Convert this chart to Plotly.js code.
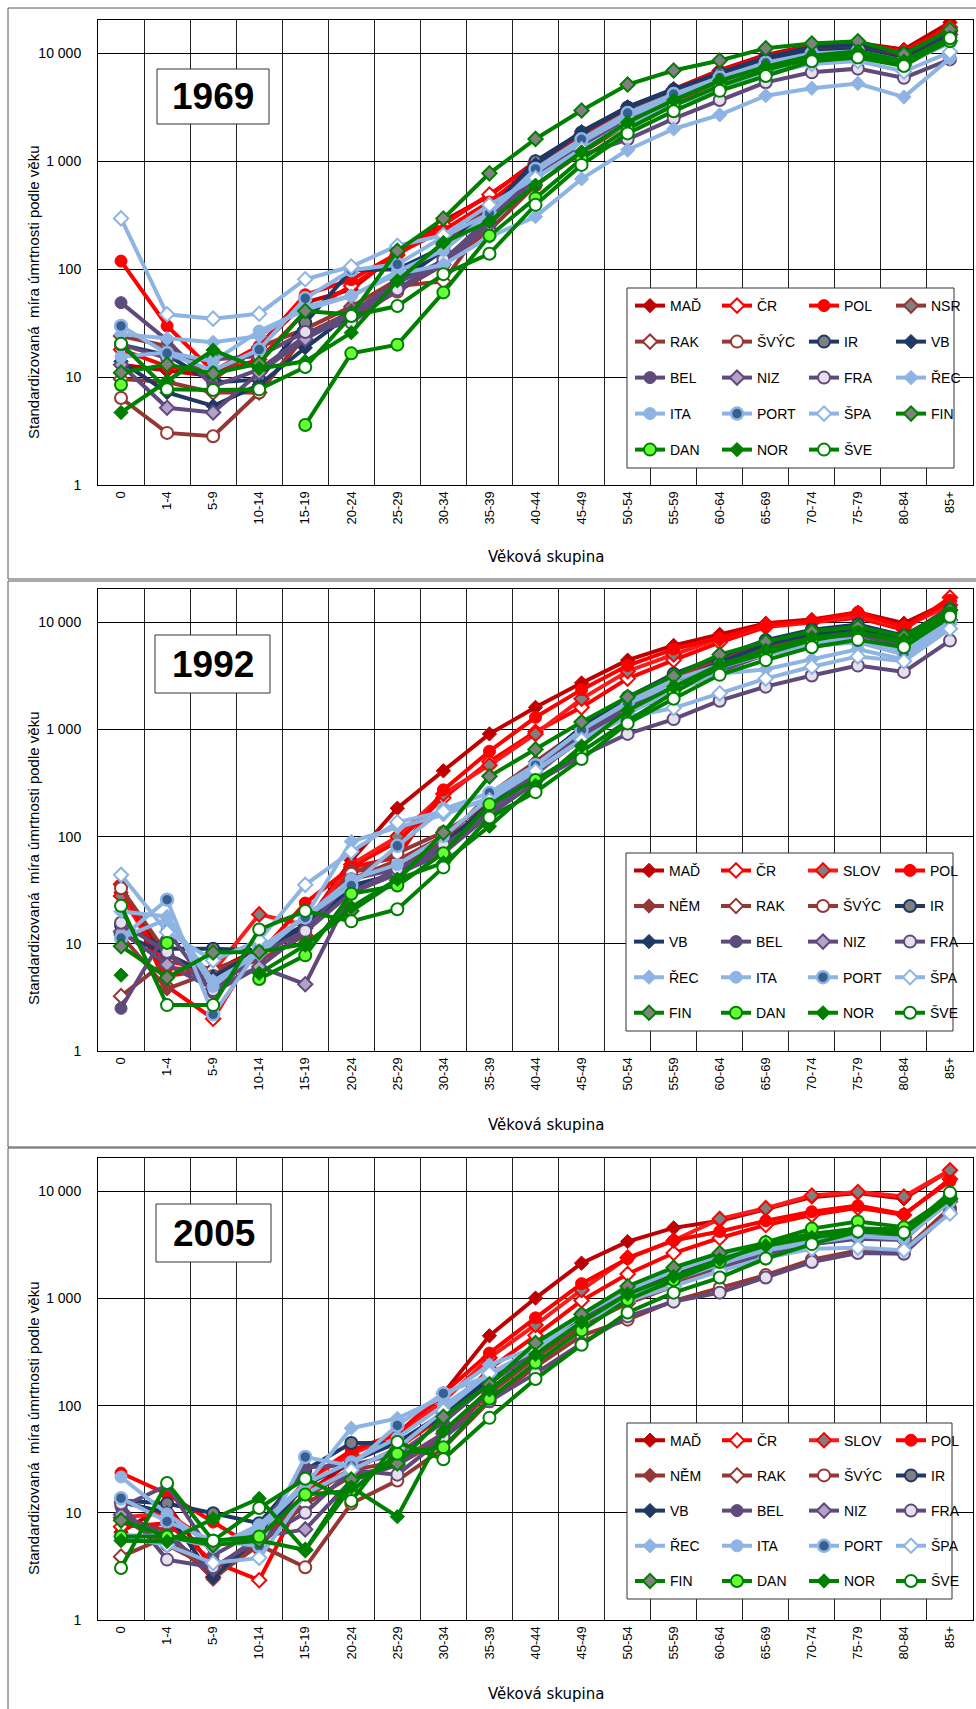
<!DOCTYPE html>
<html><head><meta charset="utf-8">
<script src="https://cdn.plot.ly/plotly-3.0.1.min.js"></script>
<style>html,body{margin:0;padding:0;background:#fff}</style>
</head><body><div id="chart" style="width:976px;height:1709px"></div>
<script>
// ---------- DATA ----------
const ageGroups = ['0','1-4','5-9','10-14','15-19','20-24','25-29','30-34','35-39','40-44','45-49','50-54','55-59','60-64','65-69','70-74','75-79','80-84','85+'];
const yTickVals = [1, 10, 100, 1000, 10000];
const yTickText = ['1', '10', '100', '1 000', '10 000'];
const years = ['1969', '1992', '2005'];
const xTitle = 'Věková skupina';
const yTitle = 'Standardizovaná  míra úmrtnosti podle věku';

const countries1969 = ['MAĎ','ČR','POL','NSR','RAK','ŠVÝC','IR','VB','BEL','NIZ','FRA','ŘEC','ITA','PORT','ŠPA','FIN','DAN','NOR','ŠVE'];
const countries1992 = ['MAĎ','ČR','SLOV','POL','NĚM','RAK','ŠVÝC','IR','VB','BEL','NIZ','FRA','ŘEC','ITA','PORT','ŠPA','FIN','DAN','NOR','ŠVE'];
const countries2005 = ['MAĎ','ČR','SLOV','POL','NĚM','RAK','ŠVÝC','IR','VB','BEL','NIZ','FRA','ŘEC','ITA','PORT','ŠPA','FIN','DAN','NOR','ŠVE'];

// 1969
const MAD69 = [13, 11.4, 10.2, 18.8, 49, 65, 140, 280, 480, 1000, 1800, 3100, 4700, 7000, 9700, 12000, 12500, 10900, 19400];
const CR69 = [18, 12.6, 10.6, 14.6, 40, 70, 135, 260, 493, 950, 1750, 3000, 4600, 6900, 9400, 11800, 12200, 10500, 17500];
const POL69 = [119, 29.8, 11.4, 19.4, 58, 80, 140, 230, 420, 900, 1700, 2900, 4400, 6500, 9000, 11000, 11500, 9800, 15000];
const NSR69 = [24, 19.4, 9.5, 19, 28, 45, 80, 170, 380, 850, 1650, 2900, 4500, 6600, 9000, 11200, 11800, 10000, 16000];
const RAK69 = [9.6, 9, 7.2, 7.2, 25, 40, 70, 77, 300, 750, 1500, 2700, 4300, 6400, 8800, 10800, 11500, 9500, 15000];
const SVYC69 = [6.4, 3.04, 2.83, 7.2, 24, 36, 62, 110, 230, 600, 1200, 2200, 3600, 5500, 7700, 9500, 10000, 8300, 13000];
const IR69 = [20, 16, 8.9, 9.5, 32, 98, 100, 160, 350, 1004, 1850, 3157, 4600, 6600, 9200, 11500, 12000, 10000, 16000];
const VB69 = [14, 7.2, 5.4, 8.5, 18.7, 39, 75, 150, 340, 930, 1888, 3200, 4690, 6170, 9000, 10500, 11000, 9000, 14500];
const BEL69 = [49, 22, 8.2, 11.8, 24, 40, 75, 120, 300, 830, 1550, 2700, 4000, 5700, 7800, 9500, 10000, 8300, 13500];
const NIZ69 = [13, 5.2, 4.7, 11, 22.5, 38, 65, 110, 260, 700, 1400, 2500, 3800, 5500, 7500, 9000, 9500, 7800, 13000];
const FRA69 = [20, 15, 14.6, 15.7, 26.2, 32, 65, 123, 280, 760, 1140, 1600, 2490, 3700, 5400, 6680, 7230, 5940, 8810];
const REC69 = [25, 22.7, 21, 24, 45, 56.5, 90, 110, 200, 307, 687, 1273, 1995, 2697, 4060, 4760, 5270, 3940, 9000];
const ITA69 = [15.4, 17, 14, 26.7, 42, 56.5, 95, 150, 330, 800, 1500, 2600, 3900, 5600, 7700, 9500, 10000, 8000, 12500];
const PORT69 = [29.8, 16.6, 11.5, 18, 53.8, 98, 111, 200, 330, 850, 1600, 2800, 4200, 6000, 8200, 10000, 10500, 8500, 13000];
const SPA69 = [296, 38.2, 34.8, 38.7, 80.7, 106, 165, 207, 395, 700, 1300, 2200, 3300, 4700, 6500, 8000, 8500, 6800, 10300];
const FIN69 = [11, 13.1, 10.8, 13.4, 41, 38, 148, 295, 774, 1613, 2963, 5150, 6950, 8600, 11170, 12380, 12980, 9840, 16600];
const DAN69 = [8.5, null, null, null, 3.6, 16.6, 20, 61, 204, 456, 1050, 2000, 3300, 5000, 7000, 9000, 9800, 8000, 13000];
const NOR69 = [4.7, 9.2, 17.8, 12, 14, 25.8, 78, 177, 277, 601, 1224, 2300, 3700, 5600, 7530, 9500, 10500, 8500, 14000];
const SVE69 = [20.4, 7.7, 7.6, 7.7, 12.4, 36.9, 45.6, 90, 139, 395, 927, 1815, 2916, 4500, 6180, 8470, 9160, 7640, 13830];

// 1992
const MAD92 = [30, 7, 5.5, 9, 15, 60, 184, 411, 908, 1607, 2711, 4430, 6080, 7710, 9780, 10590, 12400, 9780, 15700];
const CR92 = [36, 4, 2.0, 10, 12, 52, 90, 230, 500, 950, 1607, 2980, 4430, 6500, 9000, 10000, 11000, 8500, 17000];
const SLOV92 = [28, 6, 5.5, 18.8, 15, 55, 100, 250, 464, 908, 1930, 3490, 5000, 7000, 9300, 10000, 11500, 9000, 14500];
const POL92 = [35, 5, 5.8, 8, 24, 51.9, 64, 273, 626, 1298, 2350, 3940, 5620, 7130, 9500, 10200, 12400, 9000, 16000];
const NEM92 = [12, 3.8, 5.5, 7, 12, 48, 50, 90, 250, 500, 1000, 1900, 3000, 4500, 6500, 8000, 9000, 7200, 13800];
const RAK92 = [3.25, 7, 5.8, 8, 14, 40, 60, 100, 220, 450, 950, 1800, 2900, 4300, 6000, 7500, 8700, 7000, 13000];
const SVYC92 = [33, 8, 5, 8, 13, 45, 70, 110, 200, 400, 800, 1500, 2400, 3600, 5200, 6800, 8000, 6500, 12500];
const IR92 = [15, 9, 9.0, 8.7, 15, 35, 45, 80, 200, 464, 1050, 2000, 3300, 4800, 6800, 8500, 9500, 7500, 13000];
const VB92 = [12.4, 8, 4.9, 8.7, 14, 33, 45, 85, 200, 450, 1050, 1645, 2750, 4200, 6200, 7800, 8700, 7000, 12500];
const BEL92 = [2.5, 13.3, 3.5, 6.1, 13, 30, 50, 75, 180, 400, 900, 1600, 2500, 3700, 5200, 6500, 7500, 6000, 11000];
const NIZ92 = [13, 6.4, 3.8, 6.1, 4.2, 30, 45, 70, 160, 380, 850, 1500, 2300, 3500, 5000, 6200, 7000, 5600, 10500];
const FRA92 = [15.7, 8.4, 3.7, 8, 13.2, 40, 50, 84, 160, 320, 565, 908, 1248, 1854, 2505, 3180, 3940, 3440, 6740];
const REC92 = [20, 18, 4.5, 8, 18, 90, 122, 160, 230, 420, 800, 1400, 2300, 3300, 3640, 4500, 5600, 4500, 9500];
const ITA92 = [11.3, 17, 4, 9, 18, 40, 55, 100, 230, 460, 990, 1800, 2900, 4000, 5300, 6500, 7000, 5500, 10000];
const PORT92 = [11.3, 25.8, 2.2, 9, 17.6, 35, 82, 180, 256, 464, 990, 1750, 2600, 3800, 5000, 6000, 6500, 5000, 10000];
const SPA92 = [44, 12.9, 7.0, 10.8, 35.5, 72.5, 136, 172, 218, 410, 800, 1300, 1583, 2170, 2980, 3840, 4800, 4330, 8690];
const FIN92 = [9.5, 4.85, 8.3, 8.4, 10, 20.2, 39, 109, 365, 651, 1170, 2005, 3150, 4990, 6580, 8220, 9040, 7410, 13000];
const DAN92 = [null, 10.2, null, 4.7, 7.8, 29.3, 35, 70, 200, 338, 621, 1200, 2200, 3840, 5110, 6800, 8000, 6500, 12000];
const NOR92 = [5.1, null, null, 5.3, 9.7, 22, 40, 57, 125, 300, 700, 1500, 2500, 4000, 5500, 7200, 8000, 6800, 12000];
const SVE92 = [22.6, 2.68, 2.68, 13.6, 20.2, 16.2, 21, 51.6, 151, 260, 530, 1135, 1930, 3230, 4430, 5850, 6850, 5850, 11270];

// 2005
const MAD05 = [6.6, 12, 3, 5, 15, 30, 50, 130, 448, 1008, 2133, 3390, 4550, 5300, 6800, 8800, 9600, 8500, 15670];
const CR05 = [7.4, 8, 3.5, 2.35, 16, 25, 40, 80, 220, 450, 955, 1690, 2650, 3660, 4840, 6000, 7000, 6000, 13000];
const SLOV05 = [9, 10, 5, 6, 20, 35, 55, 110, 280, 565, 1200, 2400, 3470, 5520, 6950, 9120, 9840, 8910, 15670];
const POL05 = [23.5, 15, 8.2, 4.5, 20, 38, 55, 130, 309, 659, 1373, 2357, 3470, 4210, 5300, 6440, 7340, 6100, 12400];
const NEM05 = [9, 6.8, 2.4, 5.5, 14, 25, 30, 55, 140, 300, 600, 1000, 1400, 2000, 2600, 3400, 3900, 3800, 8000];
const RAK05 = [3.9, 6, 2.5, 5, 12, 22, 28, 50, 130, 280, 550, 900, 1300, 1900, 2500, 3200, 3800, 3700, 8000];
const SVYC05 = [9, 5, 3, 5, 3.1, 12.2, 20, 40, 110, 230, 450, 634, 950, 1250, 1650, 2300, 2800, 2800, 7000];
const IR05 = [13, 12.2, 9.9, 8, 25, 44.8, 45, 80, 170, 330, 700, 1100, 1700, 2300, 3000, 3700, 4200, 4200, 9000];
const VB05 = [12.6, 10, 2.5, 6, 18, 30, 45, 85, 180, 329, 650, 1100, 1700, 2400, 3100, 3800, 4300, 4300, 9000];
const BEL05 = [11.3, 18, 4, 6.9, 26.5, 28, 35, 70, 160, 330, 650, 1100, 1600, 2200, 2700, 3300, 3800, 3700, 8500];
const NIZ05 = [9.6, 6, 3, 6, 7, 20, 28, 55, 140, 300, 600, 1000, 1500, 2000, 2600, 3200, 3600, 3500, 8500];
const FRA05 = [12.2, 3.66, 3.1, 5.5, 10, 25, 22.7, 50, 110, 200, 380, 680, 933, 1132, 1566, 2183, 2650, 2610, 6500];
const REC05 = [6.2, 6, 4.8, 7, 18, 61.6, 76, 120, 240, 350, 600, 1000, 1500, 2100, 2900, 3600, 4100, 4100, 9000];
const ITA05 = [21.6, 9.8, 4.8, 7.7, 18.7, 30, 50, 100, 200, 330, 600, 1000, 1500, 2100, 2800, 3300, 3800, 3600, 8000];
const PORT05 = [13.7, 8.3, 5.5, 4.9, 33.2, 27.4, 65.3, 130, 191, 350, 700, 1200, 1800, 2500, 3300, 4000, 4500, 4400, 9000];
const SPA05 = [6, 5, 3.4, 3.8, 15, 25, 40, 90, 200, 330, 600, 950, 1300, 1800, 2400, 2900, 2972, 2820, 6200];
const FIN05 = [8.5, 6, 5, 5.5, 4.5, 20.4, 28.8, 78.7, 158, 384, 711, 1300, 1944, 2650, 3300, 4000, 4500, 4400, 8500];
const DAN05 = [6, 6, 5.5, 6, 14.8, 16, 35.6, 40.8, 116, 251, 503, 970, 1483, 2183, 3340, 4480, 5230, 4620, 9000];
const NOR05 = [5.5, 5.4, 8.8, 13.6, 4.5, 17.4, 9.2, 57.8, 140, 300, 600, 1100, 1600, 2300, 3100, 3700, 4200, 4000, 8500];
const SVE05 = [3.06, 19, 5.5, 11.1, 20.8, 12.9, 45.7, 31.6, 76.9, 177, 369, 740, 1132, 1566, 2357, 3210, 4210, 4110, 9700];

const series1969 = [MAD69, CR69, POL69, NSR69, RAK69, SVYC69, IR69, VB69, BEL69, NIZ69, FRA69, REC69, ITA69, PORT69, SPA69, FIN69, DAN69, NOR69, SVE69];
const series1992 = [MAD92, CR92, SLOV92, POL92, NEM92, RAK92, SVYC92, IR92, VB92, BEL92, NIZ92, FRA92, REC92, ITA92, PORT92, SPA92, FIN92, DAN92, NOR92, SVE92];
const series2005 = [MAD05, CR05, SLOV05, POL05, NEM05, RAK05, SVYC05, IR05, VB05, BEL05, NIZ05, FRA05, REC05, ITA05, PORT05, SPA05, FIN05, DAN05, NOR05, SVE05];

// ---------- STYLES ----------
const styles = {
  'MAĎ':  {line:'#C00000', symbol:'diamond', fill:'#C00000', edge:'#C00000', ew:1},
  'ČR':   {line:'#FF0000', symbol:'diamond', fill:'#FFFFFF', edge:'#FF0000', ew:2},
  'SLOV': {line:'#FF1A1A', symbol:'diamond', fill:'#808080', edge:'#FF0000', ew:2},
  'POL':  {line:'#FF0000', symbol:'circle',  fill:'#FF0000', edge:'#FF0000', ew:1},
  'NSR':  {line:'#953735', symbol:'diamond', fill:'#808080', edge:'#953735', ew:2},
  'NĚM':  {line:'#953735', symbol:'diamond', fill:'#953735', edge:'#953735', ew:1},
  'RAK':  {line:'#953735', symbol:'diamond', fill:'#FFFFFF', edge:'#953735', ew:2},
  'ŠVÝC': {line:'#953735', symbol:'circle',  fill:'#FFFFFF', edge:'#953735', ew:2},
  'IR':   {line:'#1F3864', symbol:'circle',  fill:'#7F7F7F', edge:'#1F3864', ew:2},
  'VB':   {line:'#1F3864', symbol:'diamond', fill:'#1F3864', edge:'#1F3864', ew:1},
  'BEL':  {line:'#604A7B', symbol:'circle',  fill:'#604A7B', edge:'#604A7B', ew:1},
  'NIZ':  {line:'#604A7B', symbol:'diamond', fill:'#B3A2C7', edge:'#604A7B', ew:2},
  'FRA':  {line:'#604A7B', symbol:'circle',  fill:'#E6E0EC', edge:'#604A7B', ew:2},
  'ŘEC':  {line:'#8EB4E3', symbol:'diamond', fill:'#8EB4E3', edge:'#8EB4E3', ew:1},
  'ITA':  {line:'#8EB4E3', symbol:'circle',  fill:'#8EB4E3', edge:'#8EB4E3', ew:1},
  'PORT': {line:'#8EB4E3', symbol:'circle',  fill:'#376092', edge:'#8EB4E3', ew:2.5},
  'ŠPA':  {line:'#8EB4E3', symbol:'diamond', fill:'#FFFFFF', edge:'#8EB4E3', ew:2},
  'FIN':  {line:'#008000', symbol:'diamond', fill:'#808080', edge:'#008000', ew:2},
  'DAN':  {line:'#008000', symbol:'circle',  fill:'#66FF33', edge:'#008000', ew:2},
  'NOR':  {line:'#008000', symbol:'diamond', fill:'#008000', edge:'#008000', ew:1},
  'ŠVE':  {line:'#008000', symbol:'circle',  fill:'#FFFFFF', edge:'#008000', ew:2}
};

const W = 976, H = 1709;
const px = x => x / W;
const py = y => 1 - y / H;
const FONT = 'Liberation Sans, Arial, sans-serif';

// panel geometry in pixels
const panels = [
  {names: countries1969, data: series1969, top: 20, bottom: 485, frame: [8, 8, 1000, 579], legBox: [627, 288, 954, 468], yearBox: [157, 69, 269, 124], xTitleY: 557, yTitleY: 292},
  {names: countries1992, data: series1992, top: 589, bottom: 1051, frame: [8, 581, 1000, 1147], legBox: [626, 853, 953, 1031], yearBox: [155, 635, 270, 693], xTitleY: 1125, yTitleY: 858},
  {names: countries2005, data: series2005, top: 1158, bottom: 1620, frame: [8, 1148, 1000, 1730], legBox: [627, 1423, 952, 1599], yearBox: [156, 1204, 271, 1262], xTitleY: 1694, yTitleY: 1428}
];
const plotLeft = 98, plotRight = 973;

const traces = [];
const layout = {
  width: W, height: H, autosize: false,
  margin: {l: 0, r: 0, t: 0, b: 0, autoexpand: false},
  paper_bgcolor: '#FFFFFF', plot_bgcolor: '#FFFFFF',
  font: {family: FONT, color: '#000'},
  shapes: [], annotations: [],
  hovermode: false
};

panels.forEach((p, pi) => {
  const sfx = pi === 0 ? '' : String(pi + 1);
  p.names.forEach((nm, i) => {
    const s = styles[nm];
    const row = Math.floor(i / 4);
    const legIdx = pi * 5 + row + 1;
    traces.push({
      type: 'scatter', mode: 'lines+markers', name: nm,
      x: ageGroups, y: p.data[i],
      xaxis: 'x' + sfx, yaxis: 'y' + sfx,
      connectgaps: false,
      line: {color: s.line, width: 4},
      marker: {symbol: s.symbol, size: s.symbol === 'circle' ? 12 : 11, color: s.fill, line: {color: s.edge, width: s.ew}},
      legend: legIdx === 1 ? 'legend' : 'legend' + legIdx,
      showlegend: true
    });
  });

  layout['xaxis' + sfx] = {
    domain: [px(plotLeft), px(plotRight)], anchor: 'y' + sfx,
    type: 'category', range: [-0.5, 18.5], tickson: 'boundaries',
    showgrid: true, gridcolor: '#222', gridwidth: 1,
    showline: true, mirror: true, linecolor: '#000', linewidth: 1,
    ticks: 'outside', ticklen: 11, tickcolor: 'rgba(0,0,0,0)', tickangle: -90,
    tickfont: {family: FONT, size: 13, color: '#000'},
    zeroline: false, fixedrange: true
  };
  layout['yaxis' + sfx] = {
    domain: [py(p.bottom), py(p.top)], anchor: 'x' + sfx,
    type: 'log', range: [0, 4.31],
    tickvals: yTickVals, ticktext: yTickText,
    showgrid: true, gridcolor: '#000', gridwidth: 1,
    showline: true, mirror: true, linecolor: '#000', linewidth: 1,
    ticks: 'outside', ticklen: 13, tickcolor: 'rgba(0,0,0,0)',
    tickfont: {family: FONT, size: 14, color: '#000'},
    zeroline: false, fixedrange: true
  };

  // outer frame
  layout.shapes.push({type: 'rect', xref: 'paper', yref: 'paper', x0: px(p.frame[0]), x1: px(p.frame[2]), y0: py(p.frame[3]), y1: py(p.frame[1]), line: {color: '#555', width: 1}, fillcolor: 'rgba(0,0,0,0)', layer: 'above'});
  // year box
  const yb = p.yearBox;
  layout.shapes.push({type: 'rect', xref: 'paper', yref: 'paper', x0: px(yb[0]), x1: px(yb[2]), y0: py(yb[3]), y1: py(yb[1]), line: {color: '#333', width: 1}, fillcolor: '#FFFFFF', layer: 'above'});
  layout.annotations.push({xref: 'paper', yref: 'paper', x: px((yb[0] + yb[2]) / 2), y: py((yb[1] + yb[3]) / 2), xanchor: 'center', yanchor: 'middle', showarrow: false, text: '<b>' + years[pi] + '</b>', font: {family: FONT, size: 37, color: '#000'}});
  // legend box
  const lb = p.legBox;
  layout.shapes.push({type: 'rect', xref: 'paper', yref: 'paper', x0: px(lb[0]), x1: px(lb[2]), y0: py(lb[3]), y1: py(lb[1]), line: {color: '#333', width: 1}, fillcolor: '#FFFFFF', layer: 'above'});
  const rowH = (lb[3] - lb[1]) / 5;
  for (let r = 0; r < 5; r++) {
    const idx = pi * 5 + r + 1;
    layout[idx === 1 ? 'legend' : 'legend' + idx] = {
      orientation: 'h', x: px(lb[0] + 3), xanchor: 'left',
      y: py(lb[1] + rowH / 2 + r * rowH), yanchor: 'middle',
      entrywidth: 42, entrywidthmode: 'pixels',
      bgcolor: 'rgba(0,0,0,0)', borderwidth: 0,
      font: {family: FONT, size: 14, color: '#000'},
      traceorder: 'normal', itemclick: false, itemdoubleclick: false
    };
  }
  // axis titles
  layout.annotations.push({xref: 'paper', yref: 'paper', x: px(546), y: py(p.xTitleY), xanchor: 'center', yanchor: 'middle', showarrow: false, text: xTitle, font: {family: 'DejaVu Sans, sans-serif', size: 15, color: '#000'}});
  layout.annotations.push({xref: 'paper', yref: 'paper', x: px(33), y: py(p.yTitleY), xanchor: 'center', yanchor: 'middle', showarrow: false, textangle: -90, text: yTitle, font: {family: FONT, size: 15, color: '#000'}});
});

Plotly.newPlot('chart', traces, layout, {staticPlot: true, displayModeBar: false});
</script>
</body></html>
